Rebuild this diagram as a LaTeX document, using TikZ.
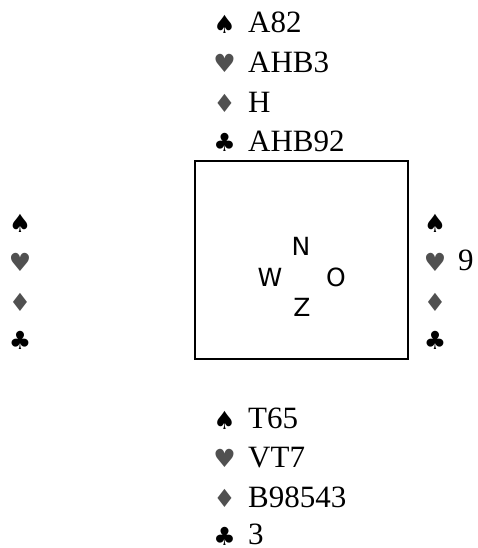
\documentclass[tikz,border=0pt]{standalone}
\usepackage{fontspec}
\setmainfont{Liberation Serif}
\newfontfamily\suitfont{DejaVu Sans}
\newfontfamily\dirfont{DejaVu Sans}
\definecolor{suitgray}{RGB}{80,80,80}
\tikzset{
  cardtext/.style={inner sep=0pt, anchor=base west, font=\fontsize{31}{31}\selectfont},
  suitblack/.style={inner sep=0pt, anchor=base, font=\suitfont\fontsize{25}{25}\selectfont, text=black},
  suitred/.style={inner sep=0pt, anchor=base, font=\suitfont\fontsize{25}{25}\selectfont, text=suitgray},
  dirtext/.style={inner sep=0pt, anchor=base, font=\dirfont\fontsize{25}{25}\selectfont},
  tablebox/.style={draw=black, line width=1.5pt}
}
\begin{document}
\begin{tikzpicture}[x=1pt,y=-1pt]
\useasboundingbox (0,0) rectangle (477,548);
% North hand
\node[suitblack] (ns) at (224.5,34) {♠};
\node[cardtext] (nst) at (248,33) {A82};
\node[suitred] (nh) at (224.5,73) {♥};
\node[cardtext] (nht) at (248,73) {AHB3};
\node[suitred] (nd) at (224.5,113) {♦};
\node[cardtext] (ndt) at (248,113) {H};
\node[suitblack] (nc) at (224.5,152) {♣};
\node[cardtext] (nct) at (248,152) {AHB92};
% Table
\draw[tablebox] (195,161) rectangle (408,359);
\node[dirtext] (dn) at (301,255) {N};
\node[dirtext] (dw) at (270,286) {W};
\node[dirtext] (do) at (336,286) {O};
\node[dirtext] (dz) at (302,316) {Z};
% West hand
\node[suitblack] (ws) at (20,232) {♠};
\node[suitred] (wh) at (20,271) {♥};
\node[suitred] (wd) at (20,311) {♦};
\node[suitblack] (wc) at (20,349) {♣};
% East hand
\node[suitblack] (es) at (435,232) {♠};
\node[suitred] (eh) at (435,271) {♥};
\node[cardtext] (eht) at (458,270) {9};
\node[suitred] (ed) at (435,311) {♦};
\node[suitblack] (ec) at (435,349) {♣};
% South hand
\node[suitblack] (ss) at (224.5,429) {♠};
\node[cardtext] (sst) at (248,428) {T65};
\node[suitred] (sh) at (224.5,467) {♥};
\node[cardtext] (sht) at (248,467) {VT7};
\node[suitred] (sd) at (224.5,507) {♦};
\node[cardtext] (sdt) at (248,507) {B98543};
\node[suitblack] (sc) at (224.5,545) {♣};
\node[cardtext] (sct) at (248,544) {3};
\end{tikzpicture}
\end{document}
